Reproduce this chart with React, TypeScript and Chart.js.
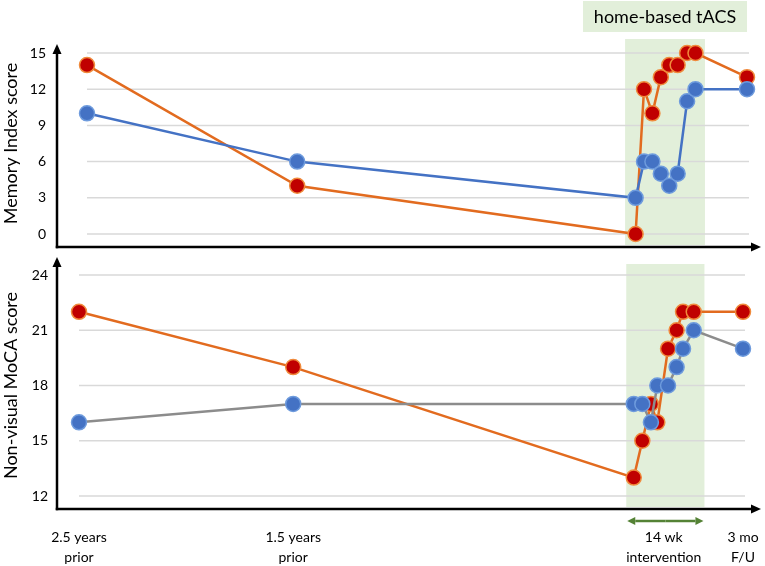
import { useEffect, useRef } from 'react';
import { Chart, registerables } from 'chart.js';

Chart.register(...registerables);

const FONT = 'Lato, "Open Sans", sans-serif';

// top panel: Memory Index score (timeline position, score)
const memoryX = [0, 10, 26.1, 26.5, 26.9, 27.3, 27.7, 28.1, 28.55, 28.95, 31.4];
const memoryRed = [14, 4, 0, 12, 10, 13, 14, 14, 15, 15, 13];
const memoryBlue = [10, 6, 3, 6, 6, 5, 4, 5, 11, 12, 12];
const memoryWindow = [25.6, 29.4];

// bottom panel: Non-visual MoCA score
const mocaX = [0, 10, 25.9, 26.3, 26.7, 27.0, 27.5, 27.9, 28.2, 28.7, 31.0];
const mocaRed = [22, 19, 13, 15, 17, 16, 20, 21, 22, 22, 22];
const mocaBlue = [16, 17, 17, 17, 16, 18, 18, 19, 20, 21, 20];
const mocaWindow = [25.55, 29.2];

// time labels under the bottom axis
const timeLabels = [
  ['2.5 years', 'prior'],
  ['1.5 years', 'prior'],
  ['14 wk', 'intervention'],
  ['3 mo', 'F/U'],
];
const timeLabelX = [0, 10, 27.3, 31.0];

type Panel = {
  xs: number[];
  red: number[];
  blue: number[];
  blueLine: string;
  yMin: number;
  yMax: number;
  title: string;
  win: number[];
  padding: { left: number; right: number; top: number; bottom: number };
  tickRight: number;
  arrowAbove: number;
  shadeAbove: number;
  header?: string;
  footer?: boolean;
};

function arrowLine(ctx: CanvasRenderingContext2D, x1: number, y1: number, x2: number, y2: number, color: string, width: number, head: number, half: number) {
  const ang = Math.atan2(y2 - y1, x2 - x1);
  const bx = x2 - Math.cos(ang) * head;
  const by = y2 - Math.sin(ang) * head;
  ctx.strokeStyle = color;
  ctx.fillStyle = color;
  ctx.lineWidth = width;
  ctx.beginPath();
  ctx.moveTo(x1, y1);
  ctx.lineTo(bx, by);
  ctx.stroke();
  ctx.beginPath();
  ctx.moveTo(x2, y2);
  ctx.lineTo(bx - Math.sin(ang) * half, by + Math.cos(ang) * half);
  ctx.lineTo(bx + Math.sin(ang) * half, by - Math.cos(ang) * half);
  ctx.closePath();
  ctx.fill();
}

function decor(p: Panel) {
  return {
    id: 'panelDecor',
    beforeDatasetsDraw(chart: any) {
      const { ctx, chartArea, scales } = chart;
      const x0 = scales.x.getPixelForValue(p.win[0]);
      const x1 = scales.x.getPixelForValue(p.win[1]);
      const axisY = chartArea.bottom + 13;
      const top = chartArea.top - p.shadeAbove;
      ctx.save();
      // intervention shading
      ctx.fillStyle = '#E2EFDA';
      ctx.fillRect(x0, top, x1 - x0, axisY - 2 - top);
      // horizontal gridlines and tick labels from the y scale
      ctx.strokeStyle = '#D9D9D9';
      ctx.lineWidth = 1.5;
      ctx.fillStyle = '#000';
      ctx.font = `14px ${FONT}`;
      ctx.textAlign = 'right';
      ctx.textBaseline = 'middle';
      scales.y.ticks.forEach((t: any) => {
        const y = scales.y.getPixelForValue(t.value);
        ctx.beginPath();
        ctx.moveTo(chartArea.left, y);
        ctx.lineTo(chartArea.right + 2, y);
        ctx.stroke();
        ctx.fillText(String(t.value), p.tickRight, y);
      });
      ctx.restore();
    },
    afterDraw(chart: any) {
      const { ctx, chartArea, scales } = chart;
      const axisX = 57;
      const axisY = chartArea.bottom + 13;
      const x0 = scales.x.getPixelForValue(p.win[0]);
      const x1 = scales.x.getPixelForValue(p.win[1]);
      ctx.save();
      ctx.lineCap = 'butt';
      // axes with arrows
      ctx.strokeStyle = '#000';
      ctx.lineWidth = 2.5;
      arrowLine(ctx, axisX, axisY + 1.25, axisX, chartArea.top - p.arrowAbove, '#000', 2.5, 10, 4.5);
      arrowLine(ctx, axisX - 1.25, axisY, 761, axisY, '#000', 2.5, 10, 4.5);

      if (p.header) {
        const cx = (x0 + x1) / 2;
        ctx.fillStyle = '#E2EFDA';
        ctx.fillRect(cx - 82, 1, 164, 31);
        ctx.fillStyle = '#000';
        ctx.font = `18px ${FONT}`;
        ctx.textAlign = 'center';
        ctx.textBaseline = 'middle';
        ctx.fillText(p.header, cx, 17);
      }
      if (p.footer) {
        const ay = axisY + 12;
        const mid = (x0 + x1) / 2;
        arrowLine(ctx, mid, ay, x0 + 1, ay, '#548235', 2.5, 8, 4);
        arrowLine(ctx, mid, ay, x1 - 1, ay, '#548235', 2.5, 8, 4);
        ctx.fillStyle = '#000';
        ctx.font = `14px ${FONT}`;
        ctx.textAlign = 'center';
        ctx.textBaseline = 'middle';
        timeLabels.forEach((lines, i) => {
          const lx = scales.x.getPixelForValue(timeLabelX[i]);
          lines.forEach((t, j) => ctx.fillText(t, lx, axisY + 28 + j * 20));
        });
      }

      // y-axis title
      ctx.fillStyle = '#000';
      ctx.font = `18px ${FONT}`;
      ctx.textAlign = 'center';
      ctx.textBaseline = 'middle';
      ctx.translate(11, (chartArea.top + chartArea.bottom) / 2);
      ctx.rotate(-Math.PI / 2);
      ctx.fillText(p.title, 0, 0);
      ctx.restore();
    },
  };
}

function buildConfig(p: Panel): any {
  const pts = (ys: number[]) => p.xs.map((x, i) => ({ x, y: ys[i] }));
  return {
    type: 'line',
    data: {
      datasets: [
        {
          label: 'blue',
          data: pts(p.blue),
          borderColor: p.blueLine,
          borderWidth: 2.5,
          pointBackgroundColor: '#4472C4',
          pointBorderColor: '#6E9BDD',
          pointBorderWidth: 1.5,
          pointRadius: 7.5,
          tension: 0,
          clip: false,
        },
        {
          label: 'red',
          data: pts(p.red),
          borderColor: '#E26B1F',
          borderWidth: 2.5,
          pointBackgroundColor: '#C00000',
          pointBorderColor: '#F08A3C',
          pointBorderWidth: 1.5,
          pointRadius: 7.5,
          tension: 0,
          clip: false,
        },
      ],
    },
    options: {
      responsive: false,
      animation: false,
      events: [],
      layout: { padding: p.padding },
      plugins: { legend: { display: false }, tooltip: { enabled: false } },
      scales: {
        x: {
          type: 'linear',
          display: false,
          min: p.xs[0],
          max: p.xs[p.xs.length - 1],
        },
        y: {
          display: false,
          min: p.yMin,
          max: p.yMax,
          ticks: { stepSize: 3 },
        },
      },
    },
    plugins: [decor(p)],
  };
}

const memoryPanel: Panel = {
  xs: memoryX,
  red: memoryRed,
  blue: memoryBlue,
  blueLine: '#4472C4',
  yMin: 0,
  yMax: 15,
  title: 'Memory Index score',
  win: memoryWindow,
  padding: { left: 87, right: 18, top: 53, bottom: 18 },
  tickRight: 46,
  arrowAbove: 9,
  shadeAbove: 14,
  header: 'home-based tACS',
};

const mocaPanel: Panel = {
  xs: mocaX,
  red: mocaRed,
  blue: mocaBlue,
  blueLine: '#8C8C8C',
  yMin: 12,
  yMax: 24,
  title: 'Non-visual MoCA score',
  win: mocaWindow,
  padding: { left: 79, right: 22, top: 23, bottom: 70 },
  tickRight: 48,
  arrowAbove: 18,
  shadeAbove: 11,
  footer: true,
};

export default function App() {
  const topRef = useRef<HTMLCanvasElement | null>(null);
  const bottomRef = useRef<HTMLCanvasElement | null>(null);

  useEffect(() => {
    if (!topRef.current || !bottomRef.current) return;
    const top = new Chart(topRef.current, buildConfig(memoryPanel));
    const bottom = new Chart(bottomRef.current, buildConfig(mocaPanel));
    return () => {
      top.destroy();
      bottom.destroy();
    };
  }, []);

  return (
    <div style={{ position: 'fixed', left: 0, top: 0, width: 765, height: 566, background: '#fff' }}>
      <canvas ref={topRef} width={765} height={252} style={{ position: 'absolute', left: 0, top: 0 }} />
      <canvas ref={bottomRef} width={765} height={314} style={{ position: 'absolute', left: 0, top: 252 }} />
    </div>
  );
}
